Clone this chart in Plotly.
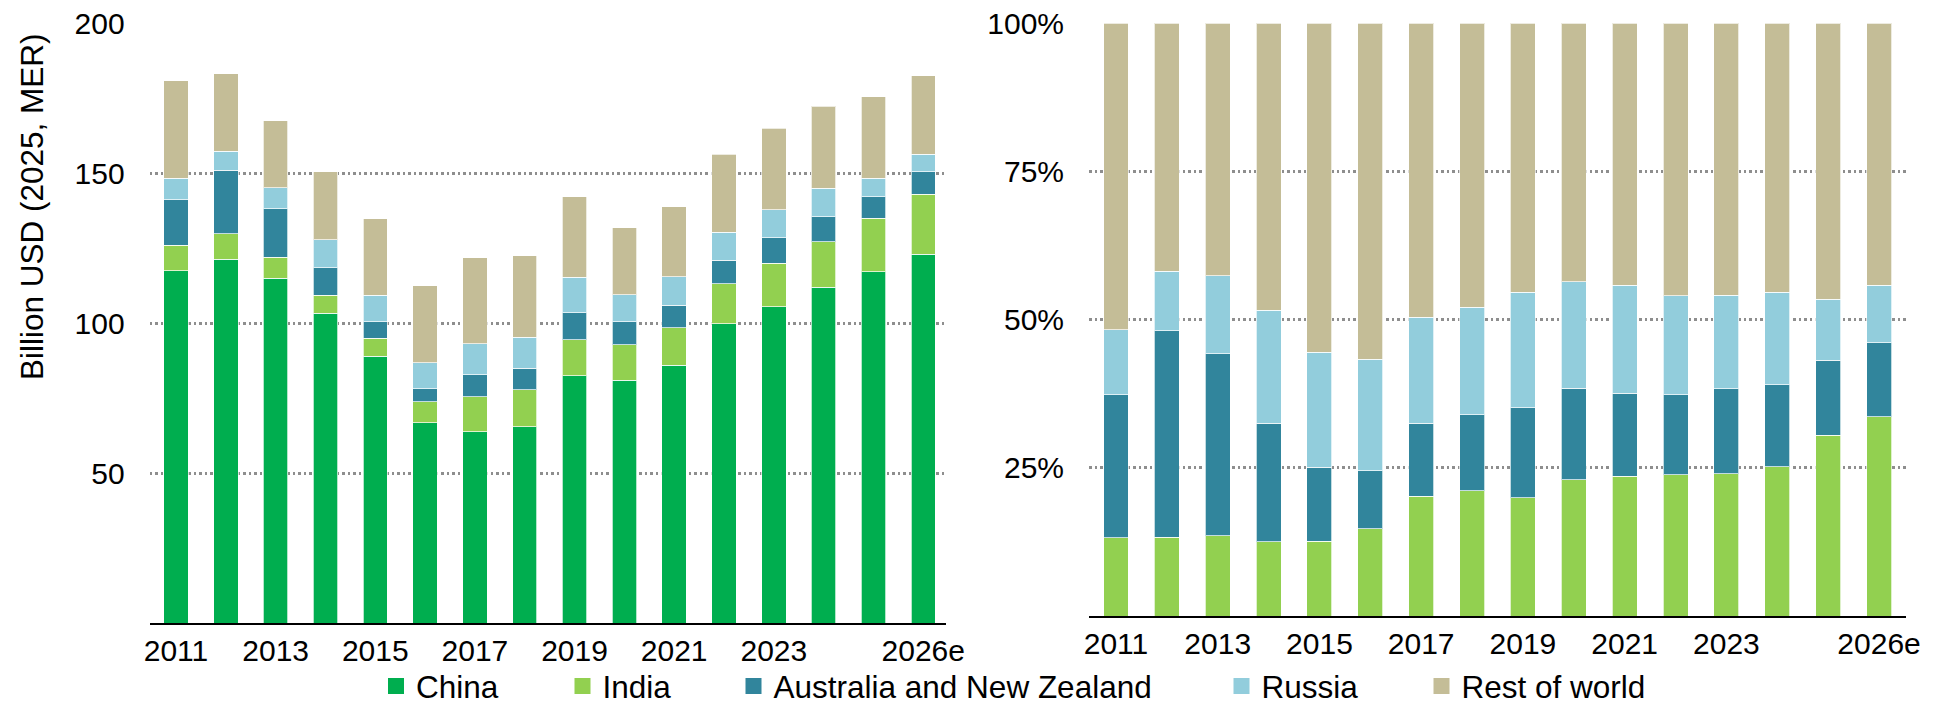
import plotly.graph_objects as go

# ---------------- data ----------------
years = ["2011", "2012", "2013", "2014", "2015", "2016", "2017", "2018",
         "2019", "2020", "2021", "2022", "2023", "2024", "2025", "2026e"]
tick_years = ["2011", "2013", "2015", "2017", "2019", "2021", "2023", "2026e"]

# Left panel: billion USD (2025, MER)
china  = [117.4, 121.2, 114.9, 103.2, 88.9, 66.8, 63.8, 65.5, 82.4, 80.9, 85.9, 99.7, 105.5, 111.9, 117.1, 122.9]
india  = [8.6, 8.5, 7.1, 6.0, 6.0, 6.9, 11.7, 12.2, 12.0, 11.9, 12.5, 13.4, 14.5, 15.2, 17.8, 20.1]
anz    = [15.1, 21.3, 16.1, 9.3, 5.5, 4.4, 7.2, 7.2, 9.1, 7.6, 7.5, 7.8, 8.4, 8.3, 7.2, 7.4]
russia = [7.1, 6.2, 7.0, 9.2, 8.9, 8.6, 10.4, 10.4, 11.7, 9.1, 9.5, 9.4, 9.4, 9.5, 6.2, 5.9]
rest   = [32.6, 25.9, 22.3, 22.8, 25.4, 25.7, 28.7, 27.1, 26.9, 22.2, 23.4, 26.0, 27.1, 27.3, 27.2, 26.2]

# Right panel: shares (%)
india_pct  = [13.2, 13.3, 13.5, 12.5, 12.6, 14.7, 20.2, 21.1, 19.9, 23.0, 23.6, 23.8, 24.0, 25.2, 30.5, 33.6]
anz_pct    = [24.1, 34.8, 30.7, 20.0, 12.5, 9.8, 12.3, 12.8, 15.2, 15.4, 14.0, 13.5, 14.3, 13.8, 12.6, 12.5]
russia_pct = [11.0, 10.0, 13.2, 19.1, 19.4, 18.8, 17.9, 18.2, 19.5, 18.0, 18.2, 16.7, 15.8, 15.6, 10.3, 9.7]
rest_pct   = [51.7, 41.9, 42.6, 48.4, 55.5, 56.7, 49.6, 47.9, 45.4, 43.6, 44.2, 46.0, 45.9, 45.4, 46.6, 44.2]

left_ticks = [50, 100, 150, 200]
right_ticks = [25, 50, 75, 100]
right_ticktext = ["25%", "50%", "75%", "100%"]

names = ["China", "India", "Australia and New Zealand", "Russia", "Rest of world"]
colors = ["#00AE4F", "#92D050", "#31859C", "#92CDDC", "#C4BD97"]

FONT = "Liberation Sans, Arial, sans-serif"
FS_TICK = 30
FS_TEXT = 31.5

W, H = 1944, 707
MT, MB = 23, 84
PH = H - MT - MB  # plot height in px

fig = go.Figure()
edge = dict(color="rgba(255,255,255,0.7)", width=1)

left_series = [china, india, anz, russia, rest]
for nm, vals, col in zip(names, left_series, colors):
    fig.add_trace(go.Bar(
        x=years, y=vals, name=nm, legendgroup=nm, showlegend=False,
        marker=dict(color=col, line=edge), xaxis="x", yaxis="y",
        hovertemplate="%{x}: %{y:.1f}<extra>" + nm + "</extra>",
    ))

right_series = [india_pct, anz_pct, russia_pct, rest_pct]
for nm, vals, col in zip(names[1:], right_series, colors[1:]):
    fig.add_trace(go.Bar(
        x=years, y=vals, name=nm, legendgroup=nm, showlegend=False,
        marker=dict(color=col, line=edge), xaxis="x2", yaxis="y2",
        hovertemplate="%{x}: %{y:.1f}%<extra>" + nm + "</extra>",
    ))

# legend entries (square swatches), one legend per entry so each can be placed
legend_ids = ["legend", "legend2", "legend3", "legend4", "legend5"]
for nm, col, lid in zip(names, colors, legend_ids):
    fig.add_trace(go.Scatter(
        x=[None], y=[None], mode="markers", name=nm, legendgroup=nm, legend=lid,
        marker=dict(symbol="square", size=16, color=col), showlegend=True,
        xaxis="x", yaxis="y", hoverinfo="skip",
    ))

grid = dict(showgrid=True, gridcolor="#8E8E8E", gridwidth=2.5, griddash="2.5px,3px",
            zeroline=False, showline=False, ticks="",
            tickfont=dict(family=FONT, size=FS_TICK, color="#000000"),
            ticklabelstandoff=24)
xcommon = dict(type="category", showgrid=False, zeroline=False, showline=True,
               linecolor="#000000", linewidth=1.5, ticks="", tickvals=tick_years,
               ticktext=tick_years, tickfont=dict(family=FONT, size=FS_TICK, color="#000000"),
               ticklabelstandoff=0)

layout = dict(
    width=W, height=H,
    margin=dict(l=0, r=0, t=MT, b=MB, autoexpand=False),
    paper_bgcolor="white", plot_bgcolor="white",
    barmode="stack", bargap=0.51,
    font=dict(family=FONT, size=FS_TEXT, color="#000000"),
    xaxis=dict(domain=[149.6 / W, 945.7 / W], range=[-0.53, 15.45], anchor="y", **xcommon),
    yaxis=dict(domain=[0, 1], range=[0, 200], tickvals=left_ticks,
               ticktext=[str(v) for v in left_ticks], anchor="x", **grid),
    xaxis2=dict(domain=[1089 / W, 1906 / W], range=[-0.53, 15.53], anchor="y2", **xcommon),
    yaxis2=dict(domain=[7 / PH, 1], range=[0, 100], tickvals=right_ticks,
                ticktext=right_ticktext, anchor="x2", **grid),
    annotations=[dict(
        text="Billion USD (2025, MER)", textangle=-90, showarrow=False,
        xref="paper", yref="paper", x=32 / W, xanchor="center",
        y=(MT + PH - 207) / PH, yanchor="middle",
        font=dict(family=FONT, size=FS_TEXT, color="#000000"))],
)

# legends positioned individually (left edge of each legend box, px)
legend_px = [376, 562.5, 733.5, 1221.5, 1421.5]
leg_y = (MT + PH - 686) / PH
for lid, px in zip(legend_ids, legend_px):
    layout[lid] = dict(x=px / W, xanchor="left", y=leg_y, yanchor="middle",
                       orientation="h", bgcolor="rgba(0,0,0,0)", borderwidth=0,
                       font=dict(family=FONT, size=FS_TEXT, color="#000000"))

fig.update_layout(**layout)
fig.write_html("out.html", config={"displayModeBar": False},
               post_script="document.body.style.margin='0px';")
